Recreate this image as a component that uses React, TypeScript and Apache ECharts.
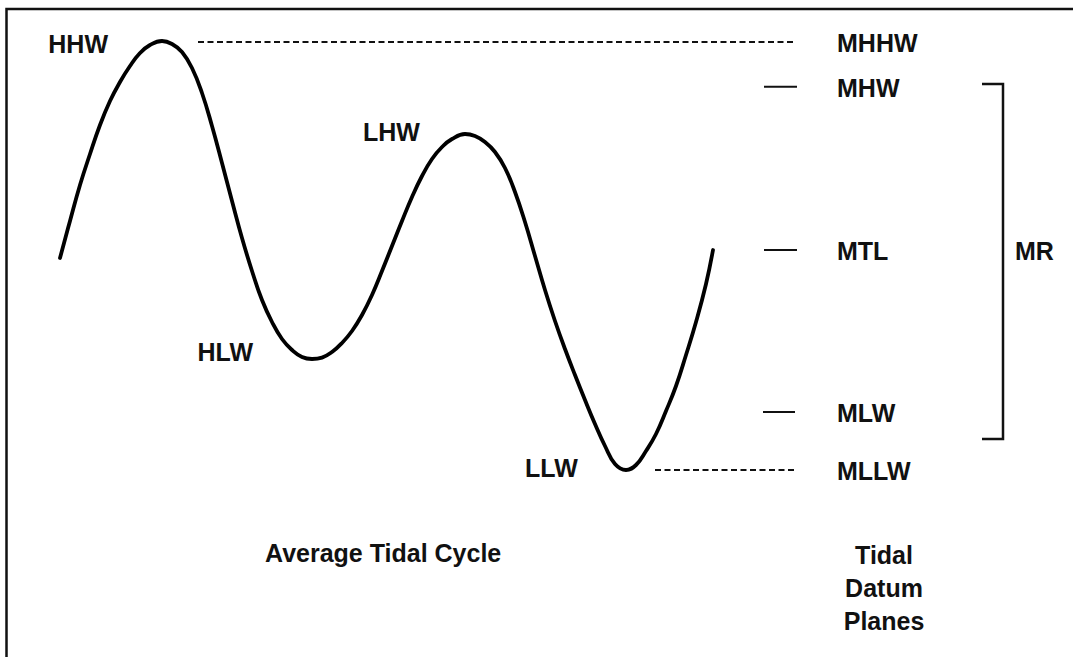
import React, { useEffect, useRef } from 'react';
import * as echarts from 'echarts';

// Average tidal cycle: time (hours) and water level (ft above MLLW)
const hours = [
  0, 0.4, 0.8, 1.2, 1.6, 2.0, 2.4, 2.8, 3.2, 3.6, 4.08,
  4.48, 4.88, 5.28, 5.68, 6.08, 6.48, 6.88, 7.28, 7.68, 8.08, 8.48, 8.88, 9.28, 9.68, 10.08,
  10.48, 10.88, 11.28, 11.68, 12.08, 12.48, 12.88, 13.28, 13.68, 14.08, 14.48, 14.88, 15.28, 15.68, 16.2,
  16.6, 17.0, 17.4, 17.8, 18.2, 18.6, 19.0, 19.4, 19.8, 20.2, 20.6, 21.0, 21.4, 21.8, 22.2, 22.64,
  23.04, 23.44, 23.84, 24.24, 24.64, 25.04, 25.44, 25.84, 26.12,
];
const level = [
  5.3, 6.225, 7.125, 7.9, 8.625, 9.225, 9.7, 10.1, 10.425, 10.625, 10.725,
  10.65, 10.45, 10.05, 9.425, 8.6, 7.675, 6.725, 5.8, 4.975, 4.25, 3.7, 3.275, 3.0, 2.825, 2.775,
  2.81, 2.95, 3.175, 3.475, 3.875, 4.375, 4.975, 5.6, 6.225, 6.825, 7.35, 7.775, 8.075, 8.275, 8.4,
  8.35, 8.2, 7.95, 7.55, 6.95, 6.2, 5.35, 4.5, 3.725, 3.025, 2.375, 1.75, 1.15, 0.6, 0.15, 0.0,
  0.125, 0.475, 0.9, 1.475, 2.1, 2.875, 3.7, 4.65, 5.5,
];

// Tidal datum planes (ft above MLLW)
const datumNames = ['MHHW', 'MHW', 'MTL', 'MLW', 'MLLW'];
const datumValues = [10.7, 9.58, 5.5, 1.45, 0];

// Extremes of the cycle
const extremeNames = ['HHW', 'HLW', 'LHW', 'LLW'];
const extremeHours = [4.08, 10.08, 16.2, 22.64];
const extremeLevels = [10.725, 2.775, 8.4, 0.0];

const rangeName = 'MR';
const cycleTitle = 'Average Tidal Cycle';
const planesTitle = ['Tidal', 'Datum', 'Planes'];

// layout constants (pixels)
const W = 1073;
const H = 657;
const X0 = 60; // pixel of t = 0
const PX_PER_HOUR = 25;
const Y0 = 470; // pixel of level 0
const PX_PER_FT = 40;

const FONT = '"Liberation Sans", Arial, sans-serif';
const INK = '#111';

export default function App() {
  const ref = useRef<HTMLDivElement>(null);
  useEffect(() => {
    const chart = echarts.init(ref.current!, null, { renderer: 'svg' });
    chart.setOption({
      animation: false,
      backgroundColor: '#ffffff',
      grid: { left: 0, right: 0, top: 0, bottom: 0, containLabel: false },
      xAxis: { type: 'value', min: -X0 / PX_PER_HOUR, max: (W - X0) / PX_PER_HOUR, show: false },
      yAxis: { type: 'value', min: -(H - Y0) / PX_PER_FT, max: Y0 / PX_PER_FT, show: false },
      series: [
        {
          type: 'line',
          data: hours.map((h, i) => [h, level[i]]),
          smooth: 0.45,
          symbol: 'none',
          showSymbol: false,
          clip: false,
          lineStyle: { color: '#000', width: 3.8, cap: 'round', join: 'round' },
        },
      ],
    });

    const toPx = (t: number, v: number) => chart.convertToPixel({ gridIndex: 0 }, [t, v]) as number[];
    const py = (v: number) => toPx(0, v)[1];

    const textStyle = (extra: any) => ({
      fill: INK,
      font: `bold 25px ${FONT}`,
      verticalAlign: 'middle',
      ...extra,
    });

    const graphic: any[] = [];
    // border frame
    graphic.push({
      type: 'rect',
      shape: { x: 6.5, y: 9, width: 1200, height: 800 },
      style: { fill: 'none', stroke: '#111', lineWidth: 2.5 },
    });

    // datum lines: [x1, x2, dashed]
    const dashSpans: [number, number, boolean][] = [
      [198, 795, true],
      [764, 797, false],
      [764, 797, false],
      [763, 795, false],
      [655, 797, true],
    ];
    datumNames.forEach((name, i) => {
      const y = py(datumValues[i]);
      const [x1, x2, dashed] = dashSpans[i];
      graphic.push({
        type: 'line',
        shape: { x1, y1: y, x2, y2: y },
        style: { stroke: '#111', lineWidth: 2, lineDash: dashed ? [6, 3.5] : null },
      });
      graphic.push({
        type: 'text',
        x: 837,
        y: y + 1,
        style: textStyle({ text: name, align: 'left' }),
      });
    });

    // extreme labels (offsets from the extreme point)
    const extremeOffsets: [number, number, string][] = [
      [-54, 3, 'right'],
      [-59, -7, 'right'],
      [-102, -2, 'left'],
      [-101, -2, 'left'],
    ];
    extremeNames.forEach((name, i) => {
      const [px, p] = toPx(extremeHours[i], extremeLevels[i]);
      const [dx, dy, align] = extremeOffsets[i];
      graphic.push({
        type: 'text',
        x: px + dx,
        y: p + dy,
        style: textStyle({ text: name, align }),
      });
    });

    // MR bracket
    graphic.push({
      type: 'polyline',
      shape: { points: [[982, 84], [1003, 84], [1003, 439], [982, 439]] },
      style: { stroke: '#111', lineWidth: 2.5, fill: 'none' },
    });
    graphic.push({
      type: 'text',
      x: 1015,
      y: py(datumValues[2]) + 1,
      style: textStyle({ text: rangeName, align: 'left' }),
    });

    // titles
    graphic.push({
      type: 'text',
      x: 265,
      y: 553,
      style: textStyle({ text: cycleTitle, align: 'left' }),
    });
    planesTitle.forEach((t, i) => {
      graphic.push({
        type: 'text',
        x: 884,
        y: 555 + i * 33,
        style: textStyle({ text: t, align: 'center' }),
      });
    });

    chart.setOption({ graphic });
    return () => chart.dispose();
  }, []);
  return <div ref={ref} style={{ position: 'fixed', left: 0, top: 0, width: W, height: H }} />;
}
